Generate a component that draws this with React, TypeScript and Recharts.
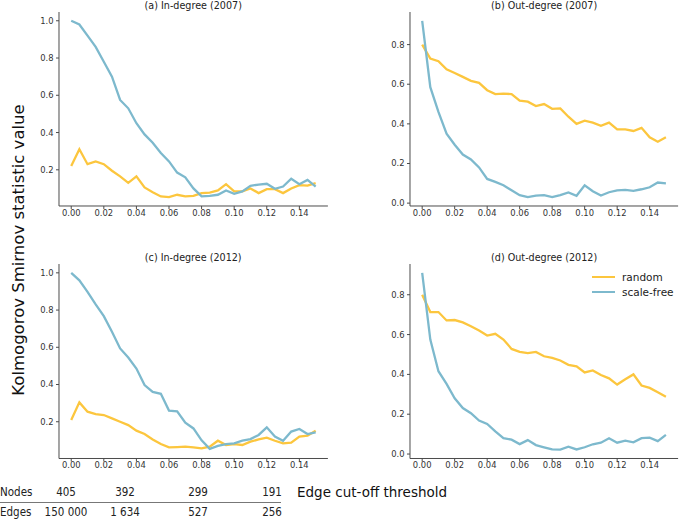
import { LineChart, Line, XAxis, YAxis } from 'recharts'

const thresholds = [
  0, 0.005, 0.01, 0.015, 0.02, 0.025, 0.03, 0.035, 0.04, 0.045, 0.05, 0.055, 0.06, 0.065, 0.07, 0.075,
  0.08, 0.085, 0.09, 0.095, 0.1, 0.105, 0.11, 0.115, 0.12, 0.125, 0.13, 0.135, 0.14, 0.145, 0.15,
]

const inDeg2007Random = [
  0.22, 0.31, 0.23, 0.245, 0.23, 0.195, 0.165, 0.13, 0.165, 0.105, 0.08, 0.057, 0.053, 0.066, 0.057, 0.06,
  0.075, 0.078, 0.089, 0.123, 0.084, 0.084, 0.1, 0.075, 0.096, 0.096, 0.075, 0.1, 0.118, 0.115, 0.128,
]
const inDeg2007ScaleFree = [
  1.0, 0.98, 0.92, 0.86, 0.78, 0.7, 0.575, 0.53, 0.45, 0.39, 0.345, 0.29, 0.245, 0.185, 0.16, 0.1,
  0.057, 0.06, 0.066, 0.089, 0.071, 0.084, 0.114, 0.121, 0.125, 0.098, 0.11, 0.152, 0.123, 0.146, 0.11,
]
const outDeg2007Random = [
  0.8, 0.73, 0.716, 0.675, 0.657, 0.637, 0.617, 0.607, 0.57, 0.55, 0.553, 0.55, 0.517, 0.512, 0.49, 0.5,
  0.476, 0.478, 0.436, 0.4, 0.416, 0.406, 0.39, 0.406, 0.372, 0.372, 0.364, 0.38, 0.332, 0.31, 0.332,
]
const outDeg2007ScaleFree = [
  0.92, 0.585, 0.46, 0.35, 0.295, 0.245, 0.22, 0.18, 0.122, 0.107, 0.09, 0.065, 0.04, 0.03, 0.038, 0.04,
  0.03, 0.04, 0.054, 0.037, 0.09, 0.06, 0.038, 0.055, 0.064, 0.067, 0.062, 0.07, 0.08, 0.104, 0.1,
]
const inDeg2012Random = [
  0.209, 0.304, 0.254, 0.241, 0.236, 0.218, 0.2, 0.182, 0.152, 0.134, 0.105, 0.08, 0.062, 0.064, 0.066, 0.062,
  0.057, 0.066, 0.098, 0.075, 0.08, 0.075, 0.093, 0.105, 0.114, 0.098, 0.084, 0.088, 0.12, 0.125, 0.152,
]
const inDeg2012ScaleFree = [
  1.0, 0.96, 0.898, 0.83, 0.767, 0.683, 0.594, 0.545, 0.486, 0.397, 0.36, 0.35, 0.26, 0.256, 0.195, 0.164,
  0.1, 0.054, 0.07, 0.08, 0.084, 0.098, 0.107, 0.129, 0.17, 0.12, 0.098, 0.147, 0.161, 0.134, 0.143,
]
const outDeg2012Random = [
  0.8, 0.713, 0.713, 0.671, 0.673, 0.661, 0.642, 0.62, 0.595, 0.604, 0.575, 0.528, 0.513, 0.507, 0.513, 0.491,
  0.483, 0.47, 0.448, 0.44, 0.41, 0.42, 0.397, 0.38, 0.349, 0.376, 0.4, 0.344, 0.332, 0.31, 0.288,
]
const outDeg2012ScaleFree = [
  0.91, 0.575, 0.416, 0.352, 0.28, 0.231, 0.205, 0.168, 0.151, 0.114, 0.08, 0.072, 0.05, 0.07, 0.045, 0.034,
  0.023, 0.022, 0.037, 0.023, 0.034, 0.049, 0.057, 0.079, 0.057, 0.067, 0.059, 0.08, 0.082, 0.065, 0.096,
]

const xTicks = [0, 0.02, 0.04, 0.06, 0.08, 0.1, 0.12, 0.14]
const yTicksIn = [0.2, 0.4, 0.6, 0.8, 1.0]
const yTicksOut = [0, 0.2, 0.4, 0.6, 0.8]

const seriesNames = ['random', 'scale-free']

const nodeCounts = ['405', '392', '299', '191']
const edgeCounts = ['150 000', '1 634', '527', '256']

const YELLOW = '#FCC63E'
const BLUE = '#7DB9CD'
const COLORS = [YELLOW, BLUE]
const FONT = "'DejaVu Sans', sans-serif"
const COND = "'DejaVu Sans Condensed', 'DejaVu Sans', sans-serif"
const AXIS = '#4a4a4a'
const TEXT = '#333'

const build = (random: number[], scaleFree: number[]) =>
  thresholds.map((x, i) => ({ x, random: random[i], scaleFree: scaleFree[i] }))

interface PanelProps {
  title: string
  data: { x: number; random: number; scaleFree: number }[]
  x0: number
  x1: number
  y0: number
  y1: number
  yDomain: [number, number]
  yTicks: number[]
}

const YW = 50
const XH = 20
const PAD = 3

function Panel({ title, data, x0, x1, y0, y1, yDomain, yTicks }: PanelProps) {
  const width = x1 - x0 + YW + PAD
  const height = y1 - y0 + PAD + XH
  return (
    <>
      <div
        style={{
          position: 'absolute',
          left: x0,
          width: x1 - x0,
          top: y0 - 12,
          textAlign: 'center',
          fontFamily: FONT,
          fontSize: 9.6,
          color: '#222',
          lineHeight: '12px',
        }}
      >
        {title}
      </div>
      <div style={{ position: 'absolute', left: x0 - YW, top: y0 - PAD }}>
        <LineChart width={width} height={height} data={data} margin={{ top: PAD, right: PAD, left: 0, bottom: 0 }}>
          <XAxis
            dataKey="x"
            type="number"
            domain={[-0.0075, 0.1575]}
            allowDataOverflow
            ticks={xTicks}
            tickFormatter={(v: number) => v.toFixed(2)}
            height={XH}
            tickSize={3}
            tickMargin={1}
            stroke={AXIS}
            tick={{ fill: TEXT, fontSize: 8.4, fontFamily: FONT }}
          />
          <YAxis
            type="number"
            domain={yDomain}
            allowDataOverflow
            ticks={yTicks}
            tickFormatter={(v: number) => v.toFixed(1)}
            width={YW}
            tickSize={3}
            tickMargin={2.5}
            stroke={AXIS}
            tick={{ fill: TEXT, fontSize: 8.4, fontFamily: FONT }}
          />
          <Line dataKey="random" name={seriesNames[0]} stroke={YELLOW} strokeWidth={2.3} dot={false} isAnimationActive={false} />
          <Line dataKey="scaleFree" name={seriesNames[1]} stroke={BLUE} strokeWidth={2.3} dot={false} isAnimationActive={false} />
        </LineChart>
      </div>
    </>
  )
}

export default function App() {
  const tableCols = [66, 125, 198, 272]
  return (
    <div
      style={{
        position: 'absolute',
        left: 0,
        top: 0,
        width: 685,
        height: 519,
        overflow: 'hidden',
        background: '#fff',
      }}
    >
      <Panel
        title="(a) In-degree (2007)"
        data={build(inDeg2007Random, inDeg2007ScaleFree)}
        x0={58.8}
        x1={327.7}
        y0={12.2}
        y1={206.2}
        yDomain={[0.0057, 1.047]}
        yTicks={yTicksIn}
      />
      <Panel
        title="(b) Out-degree (2007)"
        data={build(outDeg2007Random, outDeg2007ScaleFree)}
        x0={410.1}
        x1={678.2}
        y0={12.2}
        y1={206.2}
        yDomain={[-0.0145, 0.9645]}
        yTicks={yTicksOut}
      />
      <Panel
        title="(c) In-degree (2012)"
        data={build(inDeg2012Random, inDeg2012ScaleFree)}
        x0={58.8}
        x1={327.7}
        y0={264}
        y1={458.5}
        yDomain={[0.0025, 1.0475]}
        yTicks={yTicksIn}
      />
      <Panel
        title="(d) Out-degree (2012)"
        data={build(outDeg2012Random, outDeg2012ScaleFree)}
        x0={410.1}
        x1={678.2}
        y0={264}
        y1={458.5}
        yDomain={[-0.0224, 0.9544]}
        yTicks={yTicksOut}
      />

      {/* legend for panel (d) */}
      <div style={{ position: 'absolute', left: 592, top: 269, fontFamily: FONT, fontSize: 10.5, color: '#222' }}>
        {seriesNames.map((name, i) => (
          <div key={name} style={{ display: 'flex', alignItems: 'center', height: 15.6 }}>
            <span style={{ display: 'inline-block', width: 23, height: 2, background: COLORS[i], marginRight: 7 }} />
            <span>{name}</span>
          </div>
        ))}
      </div>

      <div
        style={{
          position: 'absolute',
          left: 18,
          top: 250,
          transform: 'translate(-50%, -50%) rotate(-90deg)',
          whiteSpace: 'nowrap',
          fontFamily: FONT,
          fontSize: 16.5,
          color: '#111',
        }}
      >
        Kolmogorov Smirnov statistic value
      </div>

      <div
        style={{
          position: 'absolute',
          left: 297,
          top: 483,
          whiteSpace: 'nowrap',
          fontFamily: FONT,
          fontSize: 13.5,
          color: '#111',
          lineHeight: '18px',
        }}
      >
        Edge cut-off threshold
      </div>

      {/* node / edge counts below the plots */}
      <div style={{ position: 'absolute', left: 0, top: 501.5, width: 281, height: 1, background: '#777' }} />
      {[
        { label: 'Nodes', values: nodeCounts, y: 492 },
        { label: 'Edges', values: edgeCounts, y: 512 },
      ].map((row) => (
        <div key={row.label}>
          <div
            style={{
              position: 'absolute',
              left: 0,
              top: row.y - 8,
              fontFamily: COND,
              fontStretch: 'condensed',
              fontSize: 11.5,
              lineHeight: '16px',
              color: '#222',
            }}
          >
            {row.label}
          </div>
          {row.values.map((v, i) => (
            <div
              key={v}
              style={{
                position: 'absolute',
                left: tableCols[i] - 30,
                width: 60,
                top: row.y - 8,
                textAlign: 'center',
                fontFamily: COND,
                fontStretch: 'condensed',
                fontSize: 11.5,
                lineHeight: '16px',
                color: '#222',
                whiteSpace: 'nowrap',
              }}
            >
              {v}
            </div>
          ))}
        </div>
      ))}
    </div>
  )
}
